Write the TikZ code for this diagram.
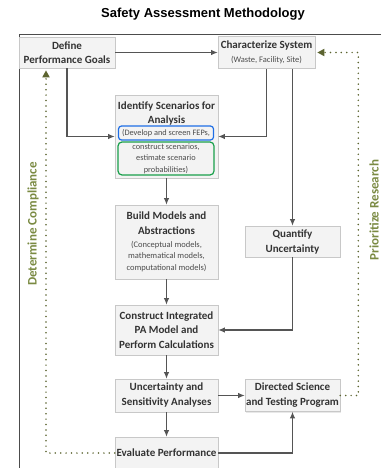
\documentclass[tikz,border=0pt]{standalone}
\usepackage{fontspec}
\setmainfont{Carlito}
\newfontfamily\titlefont{Liberation Sans}
\usetikzlibrary{arrows.meta,shadows}

\definecolor{boxfill}{RGB}{243,243,243}
\definecolor{boxline}{RGB}{200,200,200}
\definecolor{flow}{RGB}{85,85,85}
\definecolor{loopdots}{RGB}{92,100,48}
\definecolor{looptext}{RGB}{122,138,66}
\definecolor{fepblue}{RGB}{30,110,230}
\definecolor{fepgreen}{RGB}{25,160,75}

\newcommand{\subtxt}[1]{{\mdseries\fontsize{8.5}{10}\selectfont\color{black!70}#1}}

\begin{document}
\begin{tikzpicture}[x=1pt,y=-1pt,
	stage/.style={draw=boxline, fill=boxfill, line width=0.6pt, inner sep=0pt, align=center,
		text=black!80, font=\bfseries\fontsize{11}{14}\selectfont,
		drop shadow={opacity=0.18, shadow xshift=1pt, shadow yshift=-1pt}},
	sub/.style={font=\fontsize{8.3}{11.5}\selectfont, text=black!70, align=center, inner sep=0pt},
	flowline/.style={draw=flow, line width=1.1pt, -{Latex[length=6.5pt,width=5.5pt]}},
	loopline/.style={draw=loopdots, line width=1.7pt, line cap=round, dash pattern=on 0pt off 5.4pt,
		-{Triangle[length=7pt,width=7pt,fill=loopdots]}, shorten >=2pt},
	looplabel/.style={font=\bfseries\fontsize{13}{15}\selectfont, text=looptext, rotate=90}]
	\useasboundingbox (0,0) rectangle (381,468);

	\node[font=\titlefont\bfseries\fontsize{13}{15}\selectfont] (title) at (203,14) {Safety Assessment Methodology};
	\draw[draw=black!70, line width=1pt] (381,35) -- (19,35) -- (19,468);

	% boxes
	\node[stage, minimum width=96, minimum height=31] (define) at (67,52.5) {Define\\Performance Goals};
	\node[stage, minimum width=97, minimum height=32] (charac) at (266.5,52.5) {Characterize System\\\subtxt{(Waste, Facility, Site)}};
	\node[stage, minimum width=103, minimum height=83] (ident) at (166.5,136.5) {};
	\node[align=center, inner sep=0pt, text=black!80, font=\bfseries\fontsize{11}{14}\selectfont] (identtitle) at (166.5,113) {Identify Scenarios for\\Analysis};
	\node[sub, draw=fepblue, line width=1.2pt, rounded corners=3pt, minimum width=95, minimum height=14] (feps) at (166,133) {(Develop and screen FEPs,};
	\node[sub, draw=fepgreen, line width=1.2pt, rounded corners=4pt, minimum width=96, minimum height=33] (scen) at (166,158.5) {construct scenarios,\\estimate scenario\\probabilities)};
	\node[stage, minimum width=103, minimum height=74] (build) at (166.5,242) {Build Models and\\[1pt]Abstractions\\[-1pt]\subtxt{(Conceptual models,}\\[-3pt]\subtxt{mathematical models,}\\[-2pt]\subtxt{computational models)}};
	\node[stage, minimum width=95, minimum height=31] (quant) at (292.5,241.5) {Quantify\\[1pt]Uncertainty};
	\node[stage, minimum width=103, minimum height=50] (construct) at (166.5,330) {Construct Integrated\\[0.5pt]PA Model and\\[0.5pt]Perform Calculations};
	\node[stage, minimum width=103, minimum height=33] (uasa) at (166.5,395.5) {Uncertainty and\\[1pt]Sensitivity Analyses};
	\node[stage, minimum width=95, minimum height=32] (directed) at (292.5,395.5) {Directed Science\\[1pt]and Testing Program};
	\node[stage, minimum width=103, minimum height=32] (evaluate) at (166.5,453) {Evaluate Performance};

	% flow
	\draw[flowline] (define) -- (charac);
	\draw[flowline] (define.south) |- (ident.west);
	\draw[flowline] (charac.south) |- (ident.east);
	\draw[flowline] (charac.south -| quant.north) -- (quant.north);
	\draw[flowline] (ident.south) -- (build.north);
	\draw[flowline] (build.south) -- (construct.north);
	\draw[flowline] (quant.south) |- (construct.east);
	\draw[flowline] (construct.south) -- (uasa.north);
	\draw[flowline] (uasa.east) -- (directed.west);
	\draw[flowline] (uasa.south) -- (evaluate.north);
	\draw[flowline] (evaluate.east) -| (directed.south);

	% feedback loops
	\draw[loopline] (evaluate.west) -| ([xshift=-21pt]define.south);
	\draw[loopline] (directed.east) -- ++(18,0) |- (charac.east);
	\node[looplabel] (comply) at (33,224) {Determine Compliance};
	\node[looplabel] (research) at (374,210) {Prioritize Research};
\end{tikzpicture}
\end{document}
